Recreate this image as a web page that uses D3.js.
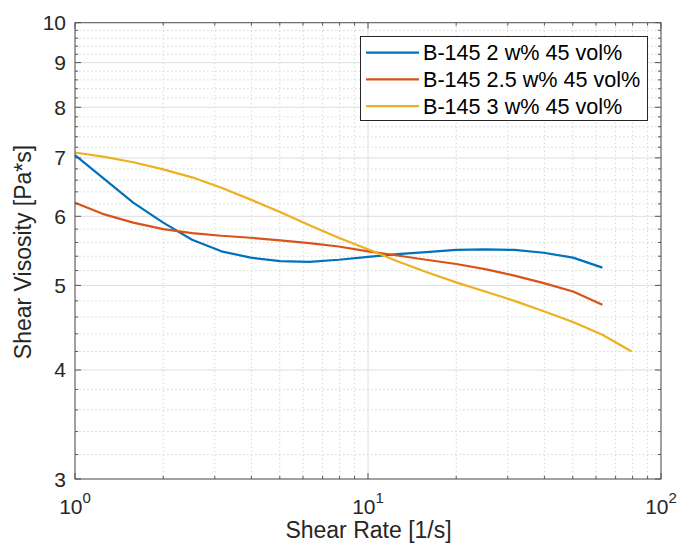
<!DOCTYPE html>
<html>
<head>
<meta charset="utf-8">
<script src="https://d3js.org/d3.v7.min.js"></script>
<style>
    body { margin: 0; background: #fff; }
    svg { font-family: "Liberation Sans", Arial, sans-serif; }
    .grid-major { stroke: #dedede; stroke-width: 1; }
    .grid-minor { stroke: #d6d6d6; stroke-width: 1; stroke-dasharray: 1.5 2.5; }
    .frame { fill: none; stroke: #555; stroke-width: 1; }
    .tick { stroke: #555; stroke-width: 1; }
    .series { fill: none; stroke-width: 2.2; stroke-linejoin: round; }
</style>
</head>
<body>
<svg id="main" width="679" height="547"></svg>

<script>
// shear rates (1/s), log spaced
var rates = [1, 1.26, 1.58, 2, 2.51, 3.16, 3.98, 5.01, 6.31, 7.94, 10, 12.6, 15.8, 20, 25.1, 31.6, 39.8, 50.1, 63.1];
var ratesLong = rates.concat([79.4]);

// viscosity (Pa*s)
var visc2 = [7.05, 6.62, 6.22, 5.90, 5.64, 5.47, 5.38, 5.33, 5.32, 5.35, 5.39, 5.43, 5.46, 5.49, 5.50, 5.49, 5.45, 5.38, 5.24];
var visc25 = [6.22, 6.03, 5.90, 5.80, 5.74, 5.70, 5.67, 5.63, 5.59, 5.54, 5.47, 5.41, 5.35, 5.29, 5.22, 5.13, 5.03, 4.92, 4.75];
var visc3 = [7.10, 7.02, 6.92, 6.79, 6.65, 6.47, 6.27, 6.07, 5.86, 5.67, 5.50, 5.33, 5.18, 5.04, 4.92, 4.80, 4.67, 4.54, 4.39, 4.20];

var seriesNames = ['B-145 2 w% 45 vol%', 'B-145 2.5 w% 45 vol%', 'B-145 3 w% 45 vol%'];
var seriesColors = ['#0072BD', '#D95319', '#EDB120'];

var xTicks = [1, 10, 100];
var xTickExp = ['0', '1', '2'];
var yTicks = [3, 4, 5, 6, 7, 8, 9, 10];

var series = [
    {name: seriesNames[0], color: seriesColors[0], x: rates, y: visc2},
    {name: seriesNames[1], color: seriesColors[1], x: rates, y: visc25},
    {name: seriesNames[2], color: seriesColors[2], x: ratesLong, y: visc3}
];

var pLeft = 75, pRight = 661, pTop = 22.7, pBottom = 479;

var x = d3.scaleLog().domain([1, 100]).range([pLeft, pRight]);
var y = d3.scaleLog().domain([3, 10]).range([pBottom, pTop]);

// minor positions
var xMinor = [];
[1, 10].forEach(function(d){ for (var k = 2; k <= 9; k++) xMinor.push(d * k); });
var yMinor = d3.range(30, 100, 2).map(function(v){ return v / 10; })
    .filter(function(v){ return Math.abs(v - Math.round(v)) > 1e-6; });

var svg = d3.select('#main');

// grid
var grid = svg.append('g');
grid.selectAll('.gx-minor').data(xMinor).enter().append('line')
    .attr('class', 'grid-minor')
    .attr('x1', d => x(d)).attr('x2', d => x(d))
    .attr('y1', pTop).attr('y2', pBottom);
grid.selectAll('.gy-minor').data(yMinor).enter().append('line')
    .attr('class', 'grid-minor')
    .attr('y1', d => y(d)).attr('y2', d => y(d))
    .attr('x1', pLeft).attr('x2', pRight);
grid.selectAll('.gx-major').data(xTicks).enter().append('line')
    .attr('class', 'grid-major')
    .attr('x1', d => x(d)).attr('x2', d => x(d))
    .attr('y1', pTop).attr('y2', pBottom);
grid.selectAll('.gy-major').data(yTicks).enter().append('line')
    .attr('class', 'grid-major')
    .attr('y1', d => y(d)).attr('y2', d => y(d))
    .attr('x1', pLeft).attr('x2', pRight);

// curves
var line = d3.line()
    .x(d => x(d[0]))
    .y(d => y(d[1]));

svg.append('g').selectAll('path')
    .data(series)
    .enter().append('path')
    .attr('class', 'series')
    .attr('stroke', d => d.color)
    .attr('d', d => line(d.x.map(function(v, i){ return [v, d.y[i]]; })));

// frame + ticks (inward, all four sides)
svg.append('rect').attr('class', 'frame')
    .attr('x', pLeft).attr('y', pTop)
    .attr('width', pRight - pLeft).attr('height', pBottom - pTop);

var ticks = svg.append('g');
function vTick(px, len) {
    ticks.append('line').attr('class', 'tick').attr('x1', px).attr('x2', px).attr('y1', pBottom).attr('y2', pBottom - len);
    ticks.append('line').attr('class', 'tick').attr('x1', px).attr('x2', px).attr('y1', pTop).attr('y2', pTop + len);
}
function hTick(py, len) {
    ticks.append('line').attr('class', 'tick').attr('y1', py).attr('y2', py).attr('x1', pLeft).attr('x2', pLeft + len);
    ticks.append('line').attr('class', 'tick').attr('y1', py).attr('y2', py).attr('x1', pRight).attr('x2', pRight - len);
}
xTicks.forEach(d => vTick(x(d), 6));
xMinor.forEach(d => vTick(x(d), 3));
yTicks.forEach(d => hTick(y(d), 6));
yMinor.forEach(d => hTick(y(d), 3));

// tick labels
svg.append('g').selectAll('text').data(yTicks).enter().append('text')
    .attr('x', 66).attr('y', d => y(d) + 7.5)
    .attr('text-anchor', 'end')
    .attr('font-size', 21).attr('fill', '#262626')
    .text(d => d);

var xl = svg.append('g').selectAll('text').data(xTicks).enter().append('text')
    .attr('x', d => x(d)).attr('y', 514)
    .attr('text-anchor', 'middle')
    .attr('font-size', 21).attr('fill', '#262626');
xl.append('tspan').text('10');
xl.append('tspan').attr('dy', -11).attr('font-size', 15).text((d, i) => xTickExp[i]);

// axis labels
svg.append('text')
    .attr('x', (pLeft + pRight) / 2 + 0.5).attr('y', 538)
    .attr('text-anchor', 'middle')
    .attr('font-size', 23).attr('fill', '#262626')
    .text('Shear Rate [1/s]');

svg.append('text')
    .attr('transform', 'translate(31,252) rotate(-90)')
    .attr('text-anchor', 'middle')
    .attr('font-size', 23).attr('fill', '#262626')
    .text('Shear Visosity [Pa*s]');

// legend
var lg = svg.append('g');
lg.append('rect')
    .attr('x', 360.5).attr('y', 36.5).attr('width', 287).attr('height', 84)
    .attr('fill', '#fff').attr('stroke', '#262626').attr('stroke-width', 1);
var rows = lg.selectAll('.row').data(series).enter().append('g')
    .attr('transform', (d, i) => 'translate(0,' + (52.7 + i * 26.7) + ')');
rows.append('line')
    .attr('x1', 366).attr('x2', 419).attr('y1', 0).attr('y2', 0)
    .attr('stroke', d => d.color).attr('stroke-width', 2.2);
rows.append('text')
    .attr('x', 423).attr('y', 7.5)
    .attr('font-size', 21.6).attr('fill', '#000')
    .text(d => d.name);
</script>
</body>
</html>
